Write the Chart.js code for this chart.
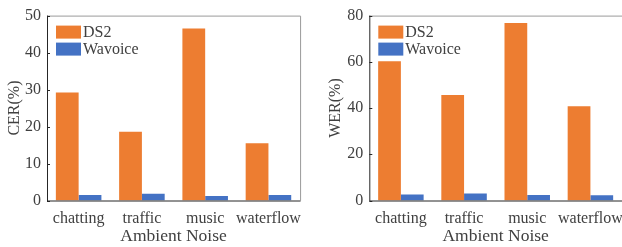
<!DOCTYPE html>
<html>
<head>
<meta charset="utf-8">
<script src="https://cdn.jsdelivr.net/npm/chart.js@4"></script>
<style>
  body { margin: 0; width: 622px; height: 247px; overflow: hidden; background: #fff; position: relative; }
  .panel { position: absolute; top: 0; height: 247px; }
</style>
</head>
<body>
<div class="panel" style="left:0;width:311px"><canvas id="cer" width="311" height="247"></canvas></div>
<div class="panel" style="left:311px;width:331px"><canvas id="wer" width="331" height="247"></canvas></div>
<script>
const categories = ["chatting", "traffic", "music", "waterflow"];
const seriesNames = ["DS2", "Wavoice"];
const cerDS2 = [29.2, 18.6, 46.5, 15.5];
const cerWavoice = [1.5, 1.8, 1.2, 1.5];
const werDS2 = [60.3, 45.6, 76.8, 40.8];
const werWavoice = [2.6, 3.0, 2.4, 2.3];
const cerTicks = [0, 10, 20, 30, 40, 50];
const werTicks = [0, 20, 40, 60, 80];

const orange = "#ED7D31";
const blue = "#4472C4";
const textColor = "#404040";
const serif = "'Liberation Serif', 'Times New Roman', serif";

// box round the plot, inward y ticks, legend inside top-left
const framePlugin = {
    id: "frame",
    afterDatasetsDraw(chart) {
        const ctx = chart.ctx;
        const a = chart.chartArea;
        ctx.save();
        ctx.lineWidth = 1;
        ctx.strokeStyle = "#9a9a9a";
        ctx.beginPath();
        ctx.moveTo(a.left, a.top + 0.5);
        ctx.lineTo(a.right + 0.5, a.top + 0.5);
        ctx.lineTo(a.right + 0.5, a.bottom);
        ctx.stroke();

        ctx.strokeStyle = "#262626";
        ctx.beginPath();
        ctx.moveTo(a.left + 0.5, a.top);
        ctx.lineTo(a.left + 0.5, a.bottom + 0.5);
        ctx.lineTo(a.right + 0.5, a.bottom + 0.5);
        ctx.stroke();

        const y = chart.scales.y;
        ctx.beginPath();
        y.ticks.forEach(t => {
            const py = Math.round(y.getPixelForValue(t.value)) + 0.5;
            ctx.moveTo(a.left, py);
            ctx.lineTo(a.left + 3, py);
        });
        ctx.stroke();

        // legend
        ctx.font = "16px " + serif;
        ctx.textBaseline = "middle";
        chart.data.datasets.forEach((ds, i) => {
            const bx = a.left + 9;
            const by = a.top + 10 + i * 17;
            ctx.fillStyle = ds.backgroundColor;
            ctx.fillRect(bx, by, 25, 13);
            ctx.fillStyle = textColor;
            ctx.fillText(ds.label, bx + 27, by + 7);
        });
        ctx.restore();
    }
};

function makeChart(canvasID, ds2, wavoice, ticks, yTitle, yWidth, titleShift, padRight) {
    const yMax = ticks[ticks.length - 1];
    return new Chart(document.getElementById(canvasID), {
        type: "bar",
        data: {
            labels: categories,
            datasets: [
                { label: seriesNames[0], data: ds2, backgroundColor: orange },
                { label: seriesNames[1], data: wavoice, backgroundColor: blue }
            ]
        },
        options: {
            responsive: false,
            animation: false,
            devicePixelRatio: 1,
            layout: { padding: { top: 11, right: padRight, left: 0, bottom: 0 } },
            categoryPercentage: 0.72,
            barPercentage: 1,
            plugins: { legend: { display: false }, tooltip: { enabled: false } },
            scales: {
                x: {
                    grid: { display: false, drawTicks: false },
                    border: { display: false },
                    ticks: { color: textColor, font: { family: serif, size: 16 }, padding: 9,
                             maxRotation: 0, autoSkip: false },
                    title: { display: true, text: "Ambient Noise", color: textColor,
                             font: { family: serif, size: 17.5 }, padding: { top: 0, bottom: 0 } },
                    afterFit(scale) { scale.height = 46.5; }
                },
                y: {
                    min: 0,
                    max: yMax,
                    afterBuildTicks(scale) { scale.ticks = ticks.map(v => ({ value: v })); },
                    grid: { display: false, drawTicks: false },
                    border: { display: false },
                    ticks: { color: textColor, font: { family: serif, size: 16 }, padding: 6 },
                    title: { display: true, text: yTitle, color: textColor,
                             font: { family: serif, size: 16 }, padding: { top: titleShift, bottom: 0 } },
                    afterFit(scale) { scale.width = yWidth; }
                }
            }
        },
        plugins: [framePlugin]
    });
}

makeChart("cer", cerDS2, cerWavoice, cerTicks, "CER(%)", 47, 5, 9);
makeChart("wer", werDS2, werWavoice, werTicks, "WER(%)", 58.3, 15, 20);
</script>
</body>
</html>
